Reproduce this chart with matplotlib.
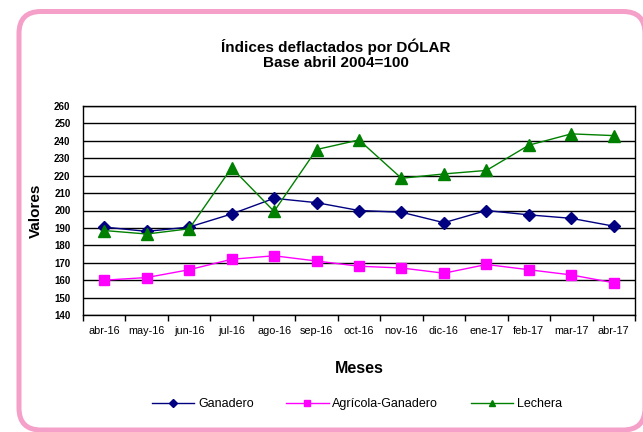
import matplotlib
matplotlib.use("Agg")
import matplotlib.pyplot as plt
from matplotlib.patches import FancyBboxPatch
import numpy as np

plt.rcParams['font.family'] = ['Liberation Sans', 'DejaVu Sans']

# data
meses = ['abr-16', 'may-16', 'jun-16', 'jul-16', 'ago-16', 'sep-16', 'oct-16',
         'nov-16', 'dic-16', 'ene-17', 'feb-17', 'mar-17', 'abr-17']
ganadero = [190.5, 188, 190.5, 198, 207, 204.5, 200, 199, 193, 200, 197.5, 195.5, 191]
agricola = [160, 161.5, 166, 172, 174, 171, 168, 167, 164, 169, 166, 163, 158.5]
lechera = [188.5, 186.5, 189.5, 224.5, 199.5, 235, 240.5, 218.5, 221, 223, 237.5, 244, 243]
y_ticks = list(range(140, 261, 10))

W, H = 643, 432
fig = plt.figure(figsize=(W / 100, H / 100), dpi=100)

# pink rounded frame, drawn in pixel coords on a background axes
bg = fig.add_axes([0, 0, 1, 1], zorder=0)
bg.set_xlim(0, W)
bg.set_ylim(H, 0)
bg.axis('off')
frame = FancyBboxPatch((19, 11.5), 626, 418.5,
                       boxstyle="round,pad=0,rounding_size=22",
                       fc='white', ec='#f5a0c8', lw=3.6)
bg.add_patch(frame)

# main plot area
ax = fig.add_axes([83 / W, 1 - 315 / H, (635 - 83) / W, (315 - 106) / H], zorder=2)
x = np.arange(len(meses))

ax.plot(x, ganadero, color='#000080', lw=1, marker='D', ms=6, label='Ganadero', zorder=3)
ax.plot(x, agricola, color='#ff00ff', lw=1, marker='s', ms=7.5, label='Agrícola-Ganadero', zorder=3)
ax.plot(x, lechera, color='#008000', lw=1, marker='^', ms=8, label='Lechera', zorder=4)

ax.set_xlim(-0.5, len(meses) - 0.5)
ax.set_ylim(140, 260)
ax.set_yticks(y_ticks)
ax.set_yticklabels([str(v) for v in y_ticks], fontsize=7, fontweight='bold')
ax.yaxis.grid(True, color='black', lw=1)
ax.set_axisbelow(True)
ax.tick_params(axis='y', length=0, pad=9)

# category labels centred, tick marks on the boundaries
ax.set_xticks(x)
ax.set_xticklabels(meses, fontsize=7.8)
ax.set_xticks(np.arange(-0.5, len(meses)), minor=True)
ax.tick_params(axis='x', which='major', length=0, pad=8)
ax.tick_params(axis='x', which='minor', length=4, direction='out', width=1)

for s in ax.spines.values():
    s.set_color('black')
    s.set_linewidth(1)

ax.set_ylabel('Valores', fontsize=11, fontweight='bold', labelpad=8)
ax.set_xlabel('Meses', fontsize=11.5, fontweight='bold', labelpad=18)

fig.text(336 / W, 1 - 54 / H, 'Índices deflactados por DÓLAR\nBase abril 2004=100',
         ha='center', va='center', fontsize=11, fontweight='bold', linespacing=1.05)

leg = fig.legend(loc='center', bbox_to_anchor=(357 / W, 1 - 404 / H), ncol=3,
                 frameon=False, fontsize=9, handlelength=3.4, columnspacing=2.6,
                 handletextpad=0.3)
for ln in leg.get_lines():
    ln.set_markersize(4)

fig.savefig('out.png', dpi=100)
